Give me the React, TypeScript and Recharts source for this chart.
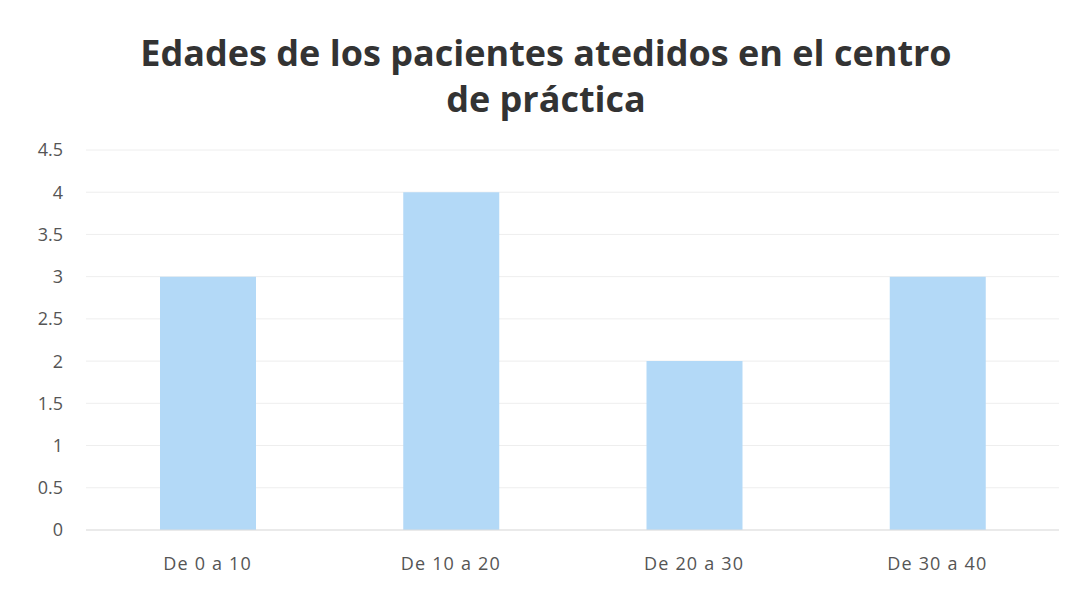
import { BarChart, Bar, XAxis, YAxis, CartesianGrid } from 'recharts';

const categories = ['De 0 a 10', 'De 10 a 20', 'De 20 a 30', 'De 30 a 40'];
const pacientes = [3, 4, 2, 3];
const yTicks = [0, 0.5, 1, 1.5, 2, 2.5, 3, 3.5, 4, 4.5];

const data = categories.map((c, i) => ({ rango: c, pacientes: pacientes[i] }));

const FONT = '"Open Sans", "Liberation Sans", sans-serif';

export default function App() {
  return (
    <div style={{ position: 'absolute', left: 0, top: 0, width: 1073, height: 594, background: '#fff' }}>
      <div
        style={{
          position: 'absolute', left: 0, top: 30, width: 1092, textAlign: 'center',
          fontFamily: FONT, fontWeight: 700, fontSize: 36, lineHeight: '46px', color: '#333',
        }}
      >
        Edades de los pacientes atedidos en el centro
        <br />
        de práctica
      </div>
      <BarChart
        width={1073}
        height={594}
        data={data}
        margin={{ top: 150, right: 14, left: 26, bottom: 20 }}
        barSize={96}
      >
        <CartesianGrid vertical={false} stroke="#eeeeee" />
        <XAxis
          dataKey="rango"
          height={44}
          axisLine={{ stroke: '#dddddd' }}
          tickLine={false}
          tickMargin={21}
          tick={{ fill: '#555', fontSize: 18, fontFamily: FONT, letterSpacing: 1.2 }}
        />
        <YAxis
          domain={[0, 4.5]}
          ticks={yTicks}
          width={60}
          axisLine={false}
          tickLine={false}
          tickMargin={17}
          tick={{ fill: '#555', fontSize: 18, fontFamily: FONT }}
        />
        <Bar dataKey="pacientes" fill="#b3d9f7" isAnimationActive={false} />
      </BarChart>
    </div>
  );
}
